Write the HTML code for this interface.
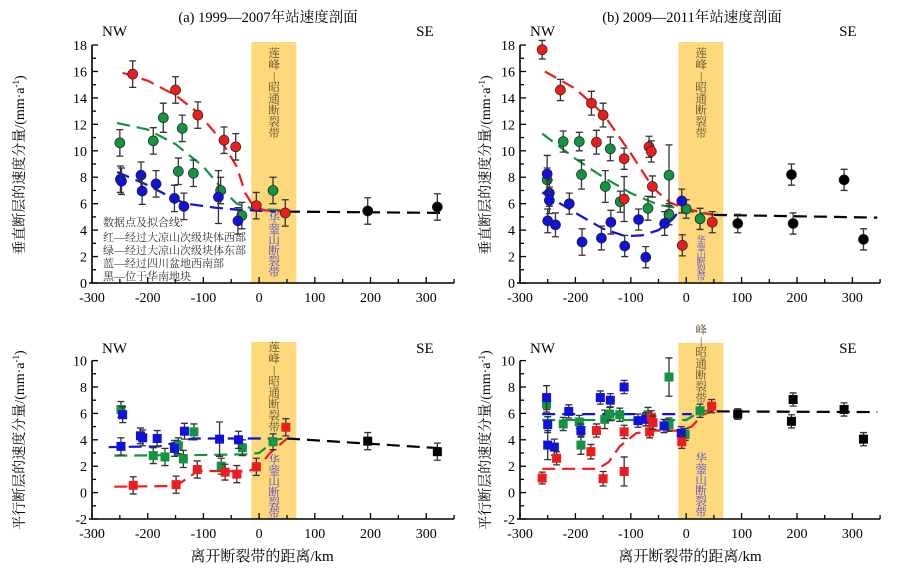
<!DOCTYPE html>
<html><head><meta charset="utf-8"><style>
body{margin:0;background:#fff}
svg{display:block;font-family:"Liberation Serif","Noto Serif CJK SC","Noto Sans CJK SC",serif}
</style></head><body>
<svg id="c" width="909" height="574" viewBox="0 0 909 574" xmlns="http://www.w3.org/2000/svg"></svg>
<script>
// ---- data ----
const aTopRed=[[-227,15.8,1],[-150,14.6,1],[-110,12.7,1],[-63,10.8,1],[-42,10.3,1],[-5,5.85,1],[47,5.3,1]];
const aTopGreen=[[-250,10.6,1],[-190,10.75,1],[-172,12.5,1.1],[-138,11.7,1],[-145,8.45,1],[-118,8.3,1],[-69,7,1],[-31,5.1,1],[25,7,1]];
const aTopBlue=[[-249,7.85,1],[-247,7.7,1],[-212,8.15,1],[-210,6.95,1],[-185,7.5,1],[-152,6.4,1],[-135,5.8,1],[-73,6.5,2],[-38,4.7,1]];
const aTopBlack=[[195,5.45,1],[320,5.75,1]];
const aTopRedFit=[[-245,15.9],[-200,15.3],[-150,14.2],[-110,12.9],[-70,10.9],[-40,8.8],[-25,6.8],[-10,5.8],[10,5.5],[45,5.4]];
const aTopGreenFit=[[-255,12.1],[-200,11.6],[-150,10.5],[-100,8.8],[-60,6.8],[-40,6.0],[-10,5.6],[50,5.5]];
const aTopBlueFit=[[-255,8.4],[-200,7.4],[-150,6.3],[-130,6.0],[-80,5.7],[-40,5.55],[30,5.4]];
const aTopBlackFit=[[50,5.4],[330,5.3]];

const bTopRed=[[-260,17.65,0.7],[-227,14.6,0.8],[-171,13.6,0.9],[-150,12.7,0.9],[-162,10.65,0.9],[-112,9.4,0.8],[-112,6.35,1.7],[-67,10.3,0.8],[-63,9.95,0.8],[-61,7.3,0.8],[-7,2.85,0.8],[47,4.6,0.8]];
const bTopGreen=[[-251,7.8,0.9],[-222,10.7,0.8],[-193,10.7,0.7],[-189,8.2,1.1],[-146,7.3,1.2],[-137,10.15,0.9],[-119,6.15,0.8],[-69,5.65,0.9],[-31,8.15,2.3],[-31,5.2,0.8],[0,5.6,0.7],[25,4.85,0.8]];
const bTopBlue=[[-251,8.25,1.4],[-247,6.8,1],[-247,6.25,1],[-250,4.7,0.9],[-236,4.4,0.9],[-211,6.0,0.8],[-188,3.1,1],[-153,3.4,0.9],[-136,4.6,0.9],[-111,2.8,0.8],[-86,4.8,0.8],[-73,1.95,0.8],[-39,4.5,0.9],[-8,6.2,0.9]];
const bTopBlack=[[93,4.5,0.7],[190,8.2,0.8],[193,4.5,0.8],[285,7.8,0.8],[320,3.3,0.8]];
const bTopRedFit=[[-255,16],[-200,14.7],[-150,12.8],[-100,9.8],[-60,7.2],[-30,6.1],[0,5.6],[50,5.15]];
const bTopGreenFit=[[-260,11.3],[-200,9.4],[-150,8.0],[-100,6.8],[-50,5.9],[-20,5.7],[10,5.4],[50,5.15]];
const bTopBlueFit=[[-260,6.85],[-200,5.3],[-150,4.1],[-110,3.55],[-80,3.6],[-50,4.0],[-25,4.8],[-10,5.6]];
const bTopBlackFit=[[50,5.15],[345,4.95]];

const aBotRed=[[-226,0.55,0.65],[-149,0.6,0.65],[-111,1.75,0.65],[-61,1.55,0.6],[-40,1.4,0.65],[-5,1.95,0.65],[48,4.95,0.65]];
const aBotGreen=[[-248,6.3,0.6],[-190,2.8,0.6],[-169,2.7,0.65],[-145,3.55,0.6],[-136,2.55,0.65],[-117,4.6,0.6],[-68,2.0,0.6],[-30,3.4,0.6],[25,3.85,0.6]];
const aBotBlue=[[-245,5.9,0.6],[-248,3.5,0.65],[-213,4.3,0.6],[-209,4.15,0.6],[-183,4.1,0.6],[-152,3.35,0.6],[-134,4.65,0.6],[-71,4.05,1.3],[-37,4.0,0.65]];
const aBotBlack=[[195,3.9,0.65],[320,3.1,0.65]];
const aBotRedFit=[[-260,0.45],[-150,0.5],[-125,1.2],[-110,1.65],[-20,1.6],[0,2.0],[20,3.0],[50,4.1]];
const aBotGreenFit=[[-260,2.8],[-100,2.85],[-20,2.9],[0,3.0],[15,3.5],[30,4.0],[50,4.15]];
const aBotBlueFit=[[-270,3.45],[-180,3.5],[-160,3.7],[-120,4.1],[30,4.1]];
const aBotBlackFit=[[50,4.1],[330,3.35]];

const bBotRed=[[-260,1.1,0.45],[-234,2.6,0.5],[-172,3.1,0.55],[-162,4.7,0.5],[-150,1.05,0.55],[-112,4.6,0.5],[-112,1.6,1.1],[-66,4.6,0.45],[-63,5.7,0.5],[-60,5.3,0.5],[-8,3.85,0.5],[46,6.55,0.5]];
const bBotGreen=[[-252,6.7,0.6],[-222,5.2,0.5],[-193,5.35,0.5],[-190,3.6,0.7],[-147,5.55,0.7],[-138,5.95,0.5],[-120,5.9,0.5],[-69,5.9,0.55],[-31,8.75,1.45],[-31,5.15,0.5],[-2,4.4,0.45],[25,6.2,0.5]];
const bBotBlue=[[-252,7.2,0.9],[-250,5.15,0.6],[-250,3.6,1.1],[-238,3.45,0.6],[-212,6.15,0.5],[-190,4.7,0.5],[-155,7.2,0.5],[-137,7.0,0.5],[-112,8.0,0.5],[-87,5.45,0.5],[-73,5.55,0.5],[-40,5.05,0.5],[-9,4.5,0.5]];
const bBotBlack=[[93,5.95,0.4],[193,7.05,0.5],[190,5.4,0.5],[285,6.3,0.5],[320,4.05,0.5]];
const bBotRedFit=[[-260,1.8],[-160,1.8],[-140,2.3],[-120,3.5],[-90,4.5],[-60,4.7],[-10,4.7],[10,5.0],[30,5.9],[50,6.2]];
const bBotGreenFit=[[-260,5.5],[0,5.5],[12,5.8],[30,6.2],[55,6.2]];
const bBotBlueFit=[[-260,5.95],[10,5.95]];
const bBotBlackFit=[[55,6.15],[345,6.1]];

const xTicks=[-300,-200,-100,0,100,200,300];
const yTicksTop=[0,2,4,6,8,10,12,14,16,18];
const yTicksBot=[-2,0,2,4,6,8,10];

const NS="http://www.w3.org/2000/svg";
const svg=document.getElementById('c');
function el(tag,attrs,parent,text){const e=document.createElementNS(NS,tag);for(const k in attrs)e.setAttribute(k,attrs[k]);if(text!==undefined)e.textContent=text;(parent||svg).appendChild(e);return e;}
const COL={red:'#ee1c1c',green:'#129443',blue:'#1111dd',black:'#000'};

function panel(p){
  const g=el('g',{});
  
  
  const sx=v=>p.x0+(v+300)*p.kx;
  const sy=v=>p.yb-(v-p.ymin)*p.ky;
  const band=el('rect',{x:sx(-14),y:p.bandTop,width:sx(67)-sx(-14),height:p.yb-p.bandTop,fill:'#fdd97c'},g);
  
  
  const ax=el('path',{d:`M${p.x0-3} ${p.yb}H${sx(350)}M${p.x0} ${p.yb}V${sy(p.ymax)}`,stroke:'#000','stroke-width':1.6,fill:'none'},g);
  
  
  for(let v=-300;v<=350;v+=50){const major=v%100===0;el('line',{x1:sx(v),x2:sx(v),y1:p.yb,y2:p.yb-(major?6:4),stroke:'#000','stroke-width':1.3},g);}
  xTicks.forEach(v=>{const t=el('text',{x:sx(v),y:p.yb+19,'text-anchor':'middle','font-size':14},g,String(v));
    
    });
  for(let v=p.ymin;v<=p.ymax;v+=1){const major=v%2===0;el('line',{x1:p.x0,x2:p.x0+(major?6:4),y1:sy(v),y2:sy(v),stroke:'#000','stroke-width':1.3},g);}
  p.yt.forEach(v=>{const t=el('text',{x:p.x0-5,y:sy(v)+5,'text-anchor':'end','font-size':14},g,String(v));
    
    });
  const top=['莲','峰','|','昭','通','断','裂','带'];
  top.forEach((c,i)=>{if(i<p.skip)return;const t=el('text',{x:sx(27),y:p.bandTextY+i*11.4,'text-anchor':'middle','font-size':11.5,fill:'#5a4a2a'},g,c);
    
    });
  ['华','蓥','山','断','裂','带'].forEach((c,i)=>{const t=el('text',{x:sx(27),y:p.hyY+i*p.hyS,'text-anchor':'middle','font-size':p.hyF,fill:'#4a45d8'},g,c);
    
    });
  const fits=[['black',p.fits[3]],['green',p.fits[1]],['blue',p.fits[2]],['red',p.fits[0]]];
  fits.forEach(([c,arr])=>{
    const d=arr.map((q,i)=>(i?'L':'M')+sx(q[0]).toFixed(1)+' '+sy(q[1]).toFixed(1)).join('');
    const l=el('path',{d,stroke:COL[c],'stroke-width':2.2,fill:'none','stroke-dasharray':'13,7'},g);
    
    
  });
  [['green',p.pts[1]],['blue',p.pts[2]],['red',p.pts[0]],['black',p.pts[3]]].forEach(([c,arr])=>{
    arr.forEach(q=>{
      const x=sx(q[0]),y=sy(q[1]),e=q[2]*p.ky;
      el('path',{d:`M${x} ${y-e}V${y+e}M${x-3.5} ${y-e}H${x+3.5}M${x-3.5} ${y+e}H${x+3.5}`,stroke:'#333','stroke-width':1.3,fill:'none'},g);
      let m;
      if(p.sq) m=el('rect',{x:x-4.5,y:y-4.5,width:9,height:9,fill:COL[c]},g);
      else m=el('circle',{cx:x,cy:y,r:5,fill:COL[c],stroke:'#222','stroke-width':0.7},g);
      
      
    });
  });
  const nw=el('text',{x:p.x0+10,y:p.nwY,'font-size':15},g,'NW');
  
  
  const se=el('text',{x:sx(p.seK),y:p.nwY,'font-size':15},g,'SE');
  
  
}

panel({name:'panel-a-vertical',x0:92,kx:0.557,yb:283,ymin:0,ymax:18,ky:13.22,yt:yTicksTop,bandTop:42,bandTextY:57,skip:0,hyY:222,hyS:10.8,hyF:11.5,nwY:36,seK:282,sq:false,
  pts:[aTopRed,aTopGreen,aTopBlue,aTopBlack],fits:[aTopRedFit,aTopGreenFit,aTopBlueFit,aTopBlackFit]});
panel({name:'panel-b-vertical',x0:520,kx:0.554,yb:283,ymin:0,ymax:18,ky:13.22,yt:yTicksTop,bandTop:42,bandTextY:57,skip:0,hyY:243,hyS:7.4,hyF:9,nwY:36,seK:276,sq:false,
  pts:[bTopRed,bTopGreen,bTopBlue,bTopBlack],fits:[bTopRedFit,bTopGreenFit,bTopBlueFit,bTopBlackFit]});
panel({name:'panel-a-parallel',x0:92,kx:0.557,yb:519,ymin:-2,ymax:10,ky:13.2,yt:yTicksBot,bandTop:342,bandTextY:351,skip:0,hyY:464,hyS:10.6,hyF:11.5,nwY:353,seK:282,sq:true,
  pts:[aBotRed,aBotGreen,aBotBlue,aBotBlack],fits:[aBotRedFit,aBotGreenFit,aBotBlueFit,aBotBlackFit]});
panel({name:'panel-b-parallel',x0:520,kx:0.554,yb:519,ymin:-2,ymax:10,ky:13.2,yt:yTicksBot,bandTop:343,bandTextY:322,skip:1,hyY:462,hyS:10.8,hyF:11.5,nwY:353,seK:276,sq:true,
  pts:[bBotRed,bBotGreen,bBotBlue,bBotBlack],fits:[bBotRedFit,bBotGreenFit,bBotBlueFit,bBotBlackFit]});
</script>
<svg width="909" height="574" style="position:absolute;left:0;top:0;font-family:'Liberation Serif','Noto Serif CJK SC',serif">
<text x="268" y="22" text-anchor="middle" font-size="14.5">(a) 1999—2007年站速度剖面</text>
<text x="692" y="22" text-anchor="middle" font-size="14.5">(b) 2009—2011年站速度剖面</text>
<g font-size="11" fill="#333">
<text x="103" y="226">数据点及拟合线:</text>
<text x="103" y="241">红—经过大凉山次级块体西部</text>
<text x="103" y="254">绿—经过大凉山次级块体东部</text>
<text x="103" y="267">蓝—经过四川盆地西南部</text>
<text x="103" y="280">黑—位于华南地块</text>
</g>
<text transform="translate(24,165) rotate(-90)" text-anchor="middle" font-size="14">垂直断层的速度分量/(mm·a<tspan font-size="9" dy="-5">-1</tspan><tspan dy="5">)</tspan></text>
<text transform="translate(490,165) rotate(-90)" text-anchor="middle" font-size="14">垂直断层的速度分量/(mm·a<tspan font-size="9" dy="-5">-1</tspan><tspan dy="5">)</tspan></text>
<text transform="translate(24,440) rotate(-90)" text-anchor="middle" font-size="14">平行断层的速度分量/(mm·a<tspan font-size="9" dy="-5">-1</tspan><tspan dy="5">)</tspan></text>
<text transform="translate(490,440) rotate(-90)" text-anchor="middle" font-size="14">平行断层的速度分量/(mm·a<tspan font-size="9" dy="-5">-1</tspan><tspan dy="5">)</tspan></text>
<text x="262" y="561" text-anchor="middle" font-size="15">离开断裂带的距离/km</text>
<text x="690" y="561" text-anchor="middle" font-size="15">离开断裂带的距离/km</text>
</svg>
</body></html>
